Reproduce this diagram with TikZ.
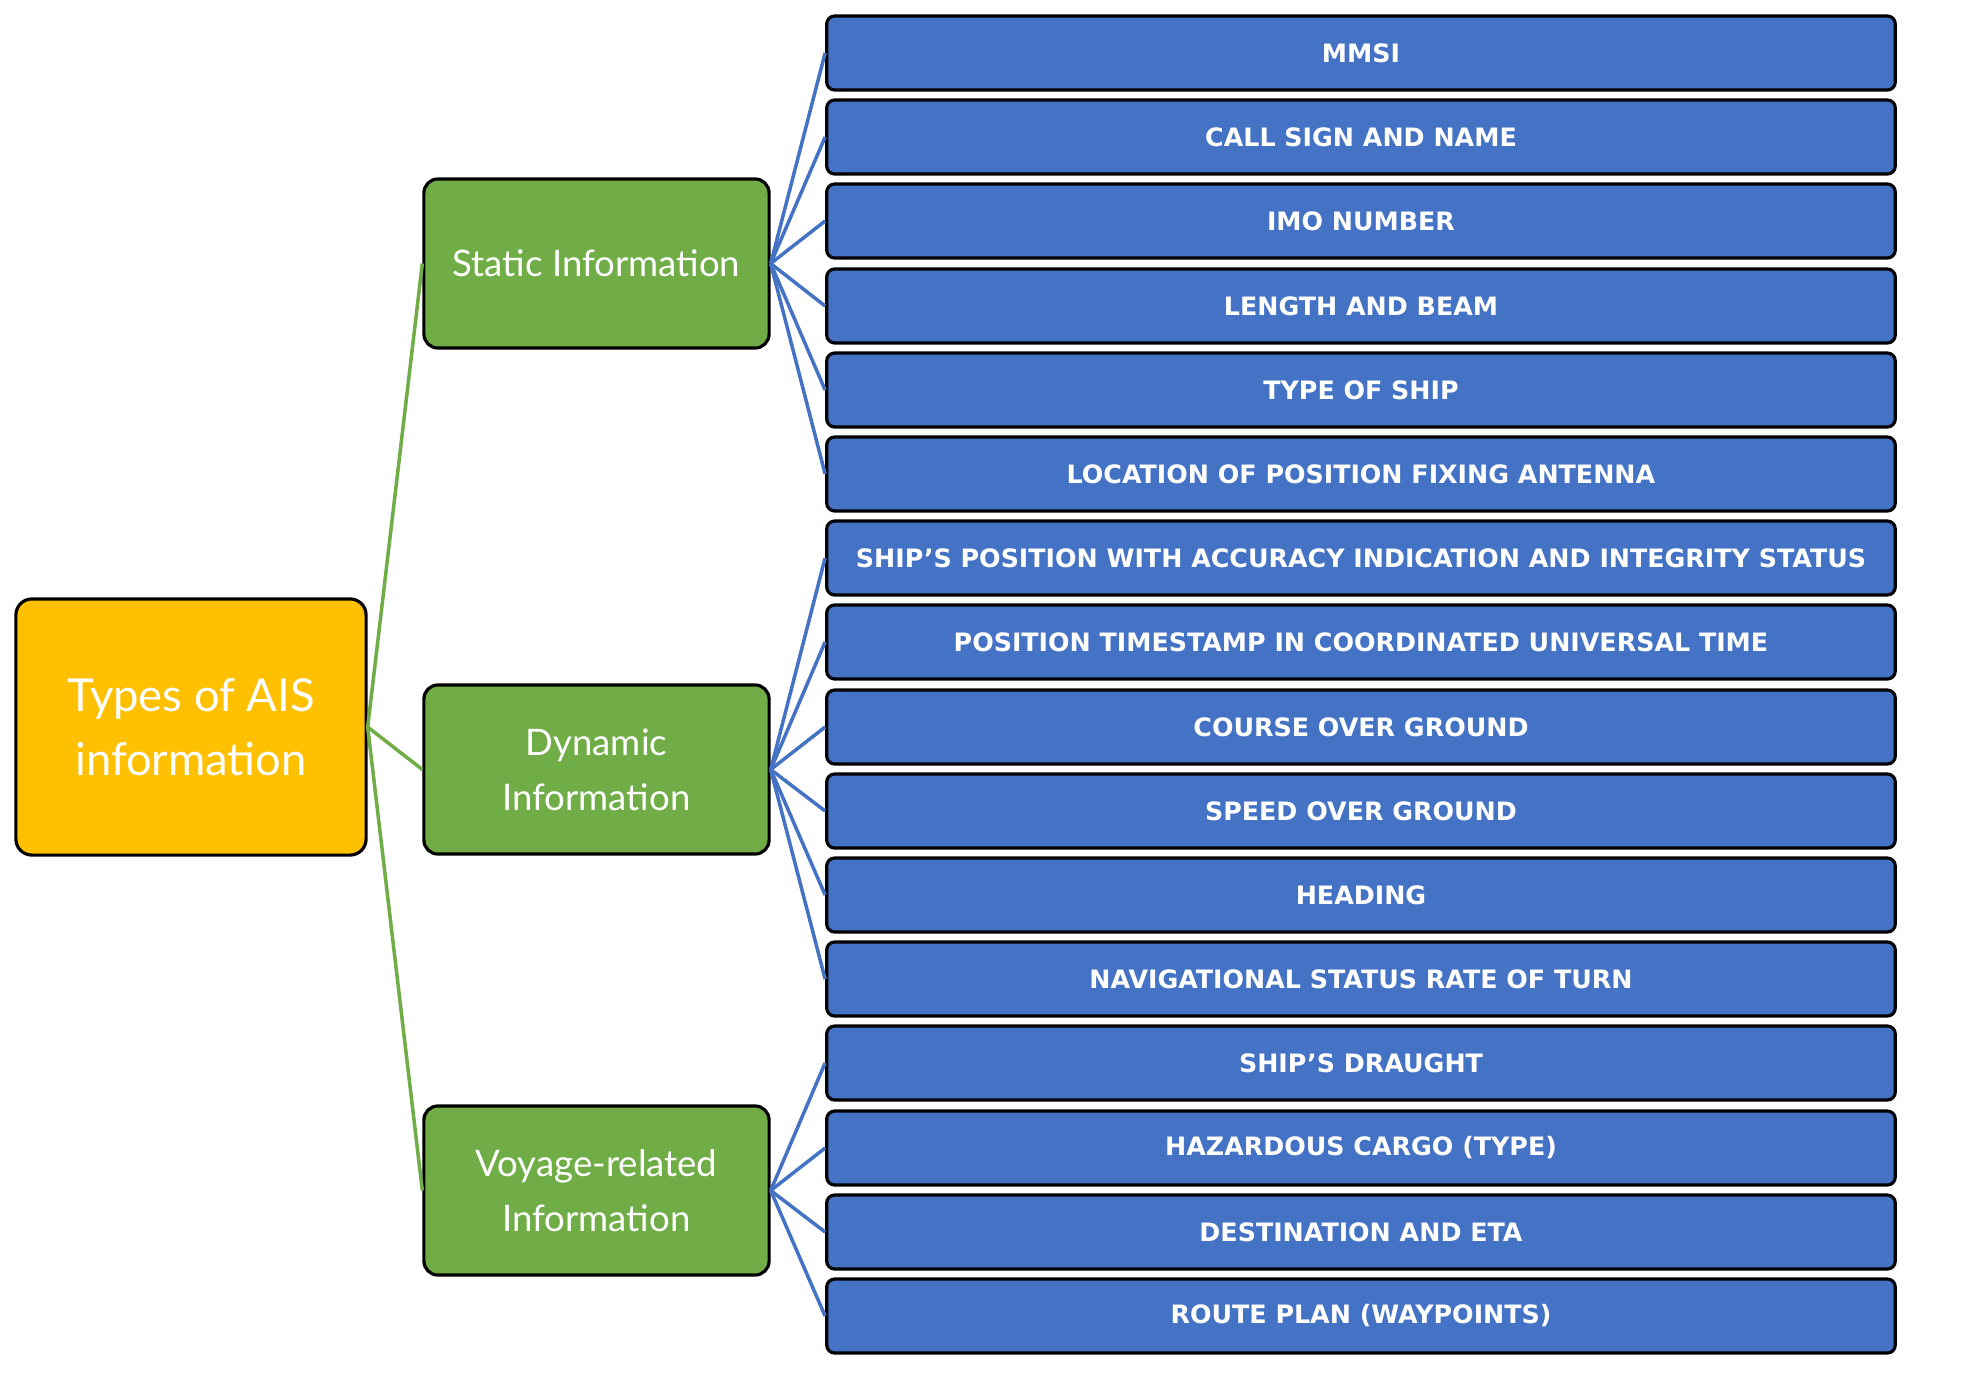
\documentclass[tikz,border=0pt]{standalone}
\usepackage{fontspec}
\usepackage{tikz}
\newfontfamily\gillfont{Lato}
\newfontfamily\capsfont{DejaVu Sans}
\definecolor{aisyellow}{HTML}{FFC000}
\definecolor{aisgreen}{HTML}{70AD47}
\definecolor{aisblue}{HTML}{4472C4}
\begin{document}
\begin{tikzpicture}[x=0.01cm,y=-0.01cm,
  rootbox/.style={shape=rectangle,rounded corners=0.16cm,draw=black,line width=0.9pt,fill=aisyellow,text=white,
    minimum width=3.5cm,minimum height=2.56cm,align=center,inner sep=0pt,font=\gillfont\fontsize{12.9}{18.2}\selectfont},
  groupbox/.style={shape=rectangle,rounded corners=0.14cm,draw=black,line width=0.9pt,fill=aisgreen,text=white,
    minimum width=3.45cm,minimum height=1.69cm,align=center,inner sep=0pt,font=\gillfont\fontsize{10.4}{15.6}\selectfont},
  itembox/.style={shape=rectangle,rounded corners=0.08cm,draw=black,line width=0.9pt,fill=aisblue,text=white,
    minimum width=10.68cm,minimum height=0.74cm,inner sep=0pt,font=\capsfont\bfseries\fontsize{7.2}{8}\selectfont},
  greenlink/.style={draw=aisgreen,line width=1pt},
  bluelink/.style={draw=aisblue,line width=1pt}]
\useasboundingbox (0,0) rectangle (1972,1375);
\node[rootbox] (R) at (191,727) {Types of AIS\\information};
\node[groupbox] (S) at (596.5,263.5) {Static Information};
\node[groupbox] (D) at (596.5,769.5) {Dynamic\\Information};
\node[groupbox] (V) at (596.5,1190.5) {Voyage-related\\Information};
\node[itembox] (s1) at (1361,53) {MMSI};
\node[itembox] (s2) at (1361,137) {CALL SIGN AND NAME};
\node[itembox] (s3) at (1361,221) {IMO NUMBER};
\node[itembox] (s4) at (1361,306) {LENGTH AND BEAM};
\node[itembox] (s5) at (1361,390) {TYPE OF SHIP};
\node[itembox] (s6) at (1361,474) {LOCATION OF POSITION FIXING ANTENNA};
\node[itembox] (d1) at (1361,558) {SHIP’S POSITION WITH ACCURACY INDICATION AND INTEGRITY STATUS};
\node[itembox] (d2) at (1361,642) {POSITION TIMESTAMP IN COORDINATED UNIVERSAL TIME};
\node[itembox] (d3) at (1361,727) {COURSE OVER GROUND};
\node[itembox] (d4) at (1361,811) {SPEED OVER GROUND};
\node[itembox] (d5) at (1361,895) {HEADING};
\node[itembox] (d6) at (1361,979) {NAVIGATIONAL STATUS RATE OF TURN};
\node[itembox] (v1) at (1361,1063) {SHIP’S DRAUGHT};
\node[itembox] (v2) at (1361,1148) {HAZARDOUS CARGO (TYPE)};
\node[itembox] (v3) at (1361,1232) {DESTINATION AND ETA};
\node[itembox] (v4) at (1361,1316) {ROUTE PLAN (WAYPOINTS)};
\path [greenlink] (R.east) edge (S.west);
\path [greenlink] (R.east) edge (D.west);
\path [greenlink] (R.east) edge (V.west);
\path [bluelink] (S.east) edge (s1.west);
\path [bluelink] (S.east) edge (s2.west);
\path [bluelink] (S.east) edge (s3.west);
\path [bluelink] (S.east) edge (s4.west);
\path [bluelink] (S.east) edge (s5.west);
\path [bluelink] (S.east) edge (s6.west);
\path [bluelink] (D.east) edge (d1.west);
\path [bluelink] (D.east) edge (d2.west);
\path [bluelink] (D.east) edge (d3.west);
\path [bluelink] (D.east) edge (d4.west);
\path [bluelink] (D.east) edge (d5.west);
\path [bluelink] (D.east) edge (d6.west);
\path [bluelink] (V.east) edge (v1.west);
\path [bluelink] (V.east) edge (v2.west);
\path [bluelink] (V.east) edge (v3.west);
\path [bluelink] (V.east) edge (v4.west);
\end{tikzpicture}
\end{document}
